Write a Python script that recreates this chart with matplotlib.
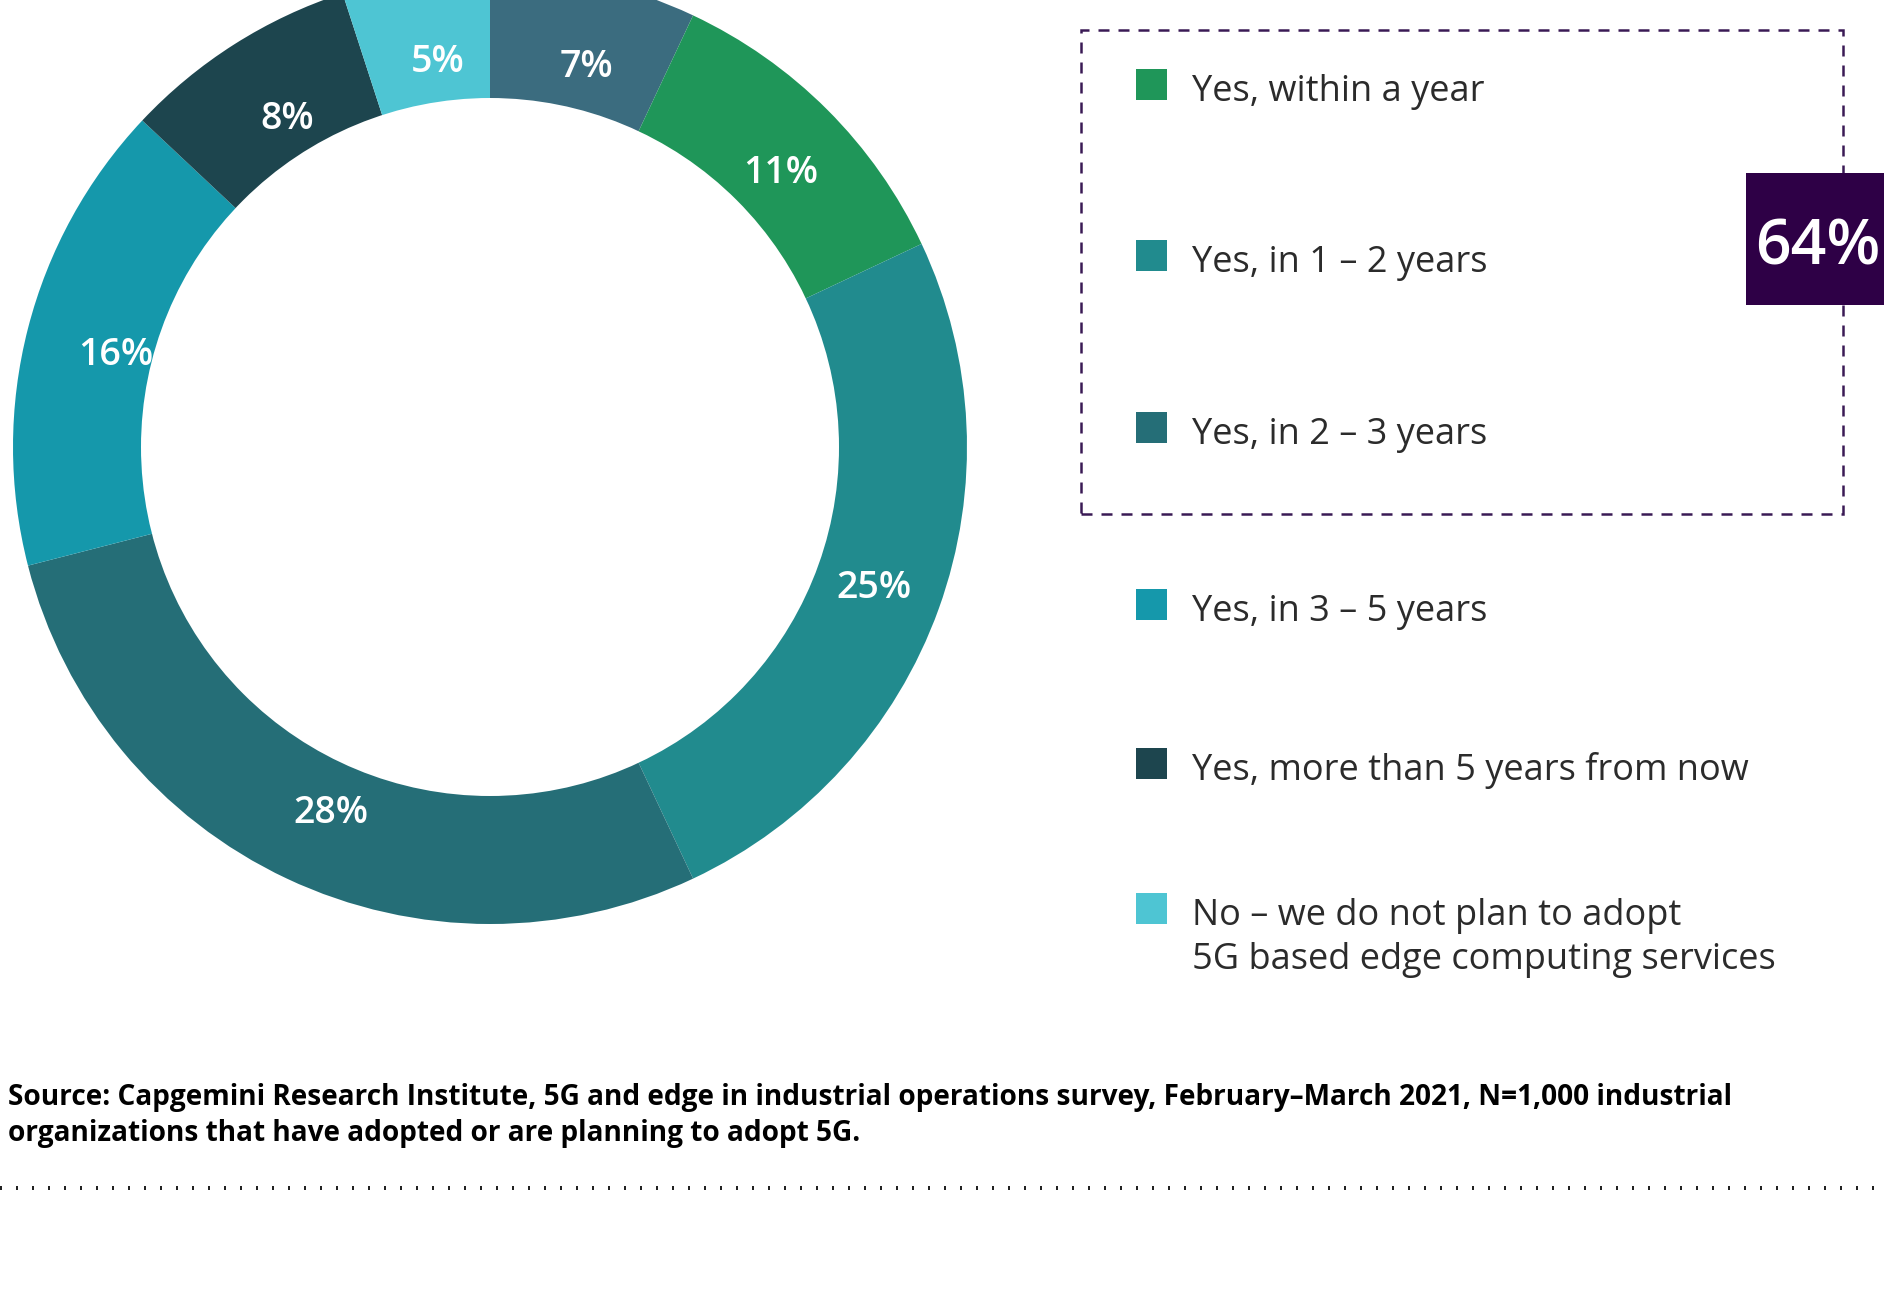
import matplotlib
matplotlib.use("Agg")
import matplotlib.pyplot as plt
from matplotlib.patches import Rectangle, Circle
from matplotlib.lines import Line2D
import numpy as np

# ---------------- data ----------------
segment_names = ["Unspecified", "Yes, within a year", "Yes, in 1 – 2 years",
                 "Yes, in 2 – 3 years", "Yes, in 3 – 5 years",
                 "Yes, more than 5 years from now",
                 "No – we do not plan to adopt\n5G based edge computing services"]
segment_values = [7, 11, 25, 28, 16, 8, 5]
segment_colors = ["#3b6c7f", "#1f9659", "#218b8e", "#256e77", "#1598ab", "#1d454e", "#4ec5d3"]

legend_labels = segment_names[1:]
legend_colors = segment_colors[1:]
total_label = "64%"
source_lines = [
    "Source: Capgemini Research Institute, 5G and edge in industrial operations survey, February–March 2021, N=1,000 industrial",
    "organizations that have adopted or are planning to adopt 5G.",
]

# ---------------- layout ----------------
W, H = 1884, 1315
fig = plt.figure(figsize=(W / 100, H / 100), dpi=100)
ax = fig.add_axes([0, 0, 1, 1])

def Y(y_img):
    return H - y_img

cx, cy = 490, Y(447)
r_out, r_in = 477, 349

wedges, _ = ax.pie(segment_values, colors=segment_colors, startangle=90,
                   counterclock=False, radius=r_out, center=(cx, cy),
                   wedgeprops=dict(linewidth=0), frame=True)

r_lab = 397
dx, dy = 10, -7
for w, v in zip(wedges, segment_values):
    ang = np.deg2rad((w.theta1 + w.theta2) / 2)
    ax.text(cx + r_lab * np.cos(ang) + dx, cy + r_lab * np.sin(ang) + dy, f"{v}%",
            ha="center", va="center", color="white", fontsize=27,
            family="Open Sans", fontweight="semibold", zorder=3)

ax.add_patch(Circle((cx, cy), r_in, facecolor="white", edgecolor="none", zorder=4))

# dashed box around first three legend entries
ax.add_patch(Rectangle((1081, Y(514)), 762, 484, fill=False, edgecolor="#3a1a55",
                       linewidth=1.8, linestyle=(0, (4.4, 3.6)), zorder=5))

# 64% box
ax.add_patch(Rectangle((1746, Y(305)), 200, 132, facecolor="#2e0046",
                       edgecolor="none", zorder=6))
ax.text(1755, Y(264), total_label, ha="left", va="baseline", color="white",
        fontsize=45, family="Open Sans", fontweight="semibold", zorder=7)

# legend
row_centers = [84, 255, 427, 604, 763, 908]
msize = 31
for lab, col, yc in zip(legend_labels, legend_colors, row_centers):
    ax.add_patch(Rectangle((1136, Y(yc + msize / 2)), msize, msize,
                           facecolor=col, edgecolor="none", zorder=5))
    for i, line in enumerate(lab.split("\n")):
        ax.text(1192, Y(yc + msize / 2 + 1 + i * 44), line, ha="left",
                va="baseline", color="#2b2b2b", fontsize=26, family="Open Sans",
                zorder=5)

# source
for i, line in enumerate(source_lines):
    ax.text(8, Y(1105 + i * 36), line, ha="left", va="baseline", color="black",
            fontsize=20.2, family="Open Sans", fontweight="bold")

# dotted separator
ax.add_line(Line2D([0, W], [Y(1188), Y(1188)], color="#222222", linewidth=2.88,
                   linestyle=(0, (0.5, 3.5)), solid_capstyle="butt",
                   dash_capstyle="butt"))

ax.set_xlim(0, W)
ax.set_ylim(0, H)
ax.set_aspect("auto")
ax.axis("off")

fig.savefig("out.png", dpi=100, facecolor="white")
